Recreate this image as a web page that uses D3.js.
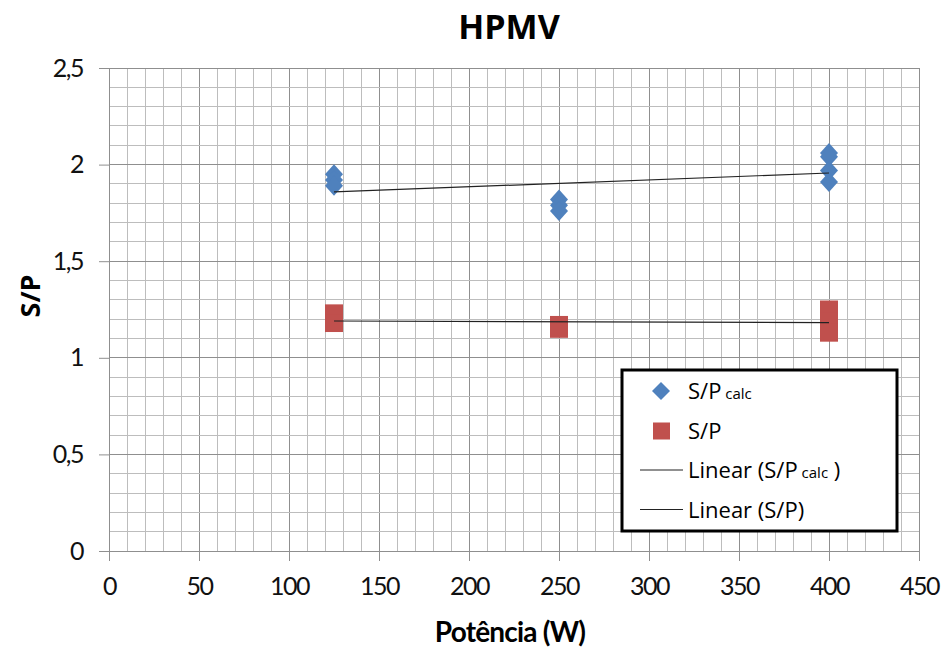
<!DOCTYPE html>
<html><head><meta charset="utf-8">
<script src="https://cdn.jsdelivr.net/npm/d3@7/dist/d3.min.js"></script>
<style>body{margin:0;background:#fff;}svg{display:block;font-family:Lato,"Open Sans",sans-serif;}
.tk text{font-size:25px;letter-spacing:-1.5px;font-family:Lato,sans-serif;fill:#111;}</style>
</head><body><div id="chart"></div>
<script>
const title = "HPMV";
const xLabel = "Potência (W)";
const yLabel = "S/P";
const xTicks = [0,50,100,150,200,250,300,350,400,450];
const yTicks = [0,0.5,1,1.5,2,2.5];
// S/P calc (diamonds)
const calcX = [125,125,125,250,250,250,400,400,400,400];
const calcY = [1.95,1.92,1.89,1.82,1.79,1.76,2.06,2.04,1.97,1.91];
// S/P (squares)
const spX = [125,125,250,250,400,400,400];
const spY = [1.23,1.18,1.17,1.15,1.25,1.19,1.13];

const W=944,H=650;
const m={l:109,r:25,t:68,b:99};
const svg=d3.select("#chart").append("svg").attr("width",W).attr("height",H);
const x=d3.scaleLinear().domain([0,450]).range([m.l,W-m.r]);
const y=d3.scaleLinear().domain([0,2.5]).range([H-m.b,m.t]);
const fmt=d=>String(d).replace(".",",");

const g=svg.append("g");
g.selectAll(".mx").data(d3.range(0,451,10)).enter().append("line")
 .attr("x1",d=>x(d)).attr("x2",d=>x(d)).attr("y1",y(0)).attr("y2",y(2.5))
 .attr("stroke",d=>d%50===0?"#8f8f8f":"#bdbdbd").attr("stroke-width",1).attr("shape-rendering","crispEdges");
g.selectAll(".my").data(d3.range(0,26).map(i=>i/10)).enter().append("line")
 .attr("y1",d=>y(d)).attr("y2",d=>y(d)).attr("x1",x(0)).attr("x2",x(450))
 .attr("stroke",(d,i)=>i%5===0?"#8f8f8f":"#bdbdbd").attr("stroke-width",1).attr("shape-rendering","crispEdges");

const xa=svg.append("g").attr("class","tk").attr("transform",`translate(0,${y(0)})`)
 .call(d3.axisBottom(x).tickValues(xTicks).tickFormat(fmt).tickSize(10).tickPadding(16));
const ya=svg.append("g").attr("class","tk").attr("transform",`translate(${x(0)},0)`)
 .call(d3.axisLeft(y).tickValues(yTicks).tickFormat(fmt).tickSize(10).tickPadding(16));
[xa,ya].forEach(a=>{
 a.attr("font-size",null).attr("font-family",null);
 a.select(".domain").attr("stroke","#8f8f8f");
 a.selectAll(".tick line").attr("stroke","#8f8f8f");
 a.selectAll("text").attr("fill","#111");
});
xa.select(".domain").attr("d",`M${x(0)-10},0.5H${x(450)}`);

function fit(xs,ys){
 const n=xs.length,mx=d3.mean(xs),my=d3.mean(ys);
 let sxy=0,sxx=0;for(let i=0;i<n;i++){sxy+=(xs[i]-mx)*(ys[i]-my);sxx+=(xs[i]-mx)**2;}
 const b=sxy/sxx,a=my-b*mx;const x0=d3.min(xs),x1=d3.max(xs);
 return [[x0,a+b*x0],[x1,a+b*x1]];
}
const line=d3.line().x(d=>x(d[0])).y(d=>y(d[1]));

const calc=calcX.map((v,i)=>[v,calcY[i]]);
const sp=spX.map((v,i)=>[v,spY[i]]);
svg.append("g").selectAll("rect").data(sp).enter().append("rect")
 .attr("x",d=>x(d[0])-9).attr("y",d=>y(d[1])-9).attr("width",18).attr("height",18).attr("fill","#C0504D");
svg.append("g").selectAll("path").data(calc).enter().append("path")
 .attr("d","M0,-10L9,0L0,10L-9,0Z").attr("transform",d=>`translate(${x(d[0])},${y(d[1])})`).attr("fill","#4F81BD");
svg.append("path").attr("d",line(fit(calcX,calcY))).attr("stroke","#222").attr("stroke-width",1.2).attr("fill","none");
svg.append("path").attr("d",line(fit(spX,spY))).attr("stroke","#222").attr("stroke-width",1.2).attr("fill","none");

svg.append("text").attr("x",509).attr("y",39).attr("text-anchor","middle").attr("font-size",34).attr("font-weight","bold").attr("font-family","'Open Sans',sans-serif").text(title);
svg.append("text").attr("x",510).attr("y",642).attr("text-anchor","middle").attr("font-size",28).attr("font-weight","bold").attr("font-family","Lato,sans-serif").attr("letter-spacing","-0.8").text(xLabel);
svg.append("text").attr("transform","translate(40,296) rotate(-90)").attr("text-anchor","middle").attr("font-size",27).attr("font-weight","bold").attr("font-family","'Open Sans',sans-serif").text(yLabel);

const lg=svg.append("g");
lg.append("rect").attr("x",622).attr("y",370).attr("width",275).attr("height",161).attr("fill","#fff").attr("stroke","#000").attr("stroke-width",3);
const ent=[
 {type:"diamond",main:"S/P",sub:" calc",after:""},
 {type:"square",main:"S/P",sub:"",after:""},
 {type:"line",main:"Linear (S/P",sub:" calc",after:" )"},
 {type:"line",main:"Linear (S/P)",sub:"",after:""}];
ent.forEach((e,i)=>{
 const cy=391+i*39.5;
 if(e.type==="diamond") lg.append("path").attr("d","M0,-9L9,0L0,9L-9,0Z").attr("transform",`translate(661,${cy})`).attr("fill","#4F81BD");
 else if(e.type==="square") lg.append("rect").attr("x",653).attr("y",cy-8).attr("width",17).attr("height",17).attr("fill","#C0504D");
 else lg.append("line").attr("x1",640).attr("x2",683).attr("y1",cy).attr("y2",cy).attr("stroke","#222").attr("stroke-width",1.2);
 const t=lg.append("text").attr("x",688).attr("y",cy+8).attr("font-size",22).attr("fill","#000").attr("font-family","'Open Sans',sans-serif");
 t.append("tspan").text(e.main);
 if(e.sub) t.append("tspan").attr("font-size",15).text(e.sub);
 if(e.after) t.append("tspan").text(e.after);
});
</script></body></html>
